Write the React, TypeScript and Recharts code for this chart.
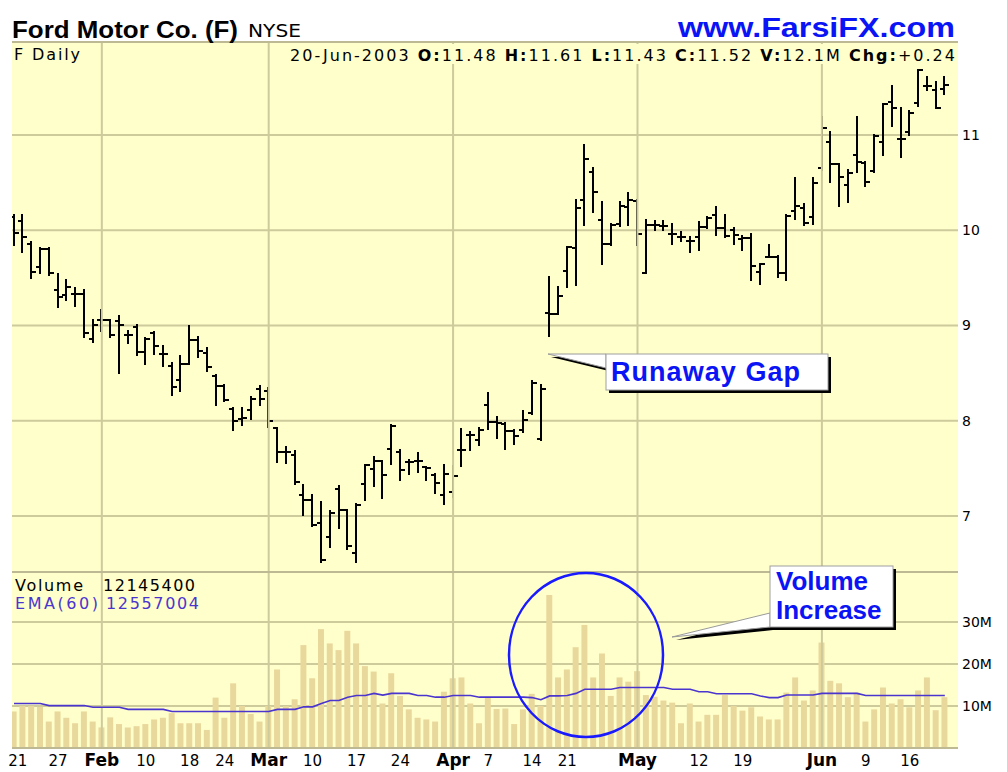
import React from "react"
import { Bar, CartesianGrid, ComposedChart, Line, ReferenceLine, XAxis, YAxis } from "recharts"

// Ford (F) daily bars, 17-Jan-2003 .. 20-Jun-2003, one entry per trading day
const opens = [
  10.14, 10.1, 9.86, 9.61, 9.8, 9.37, 9.32, 9.33, 9.33, 8.86,
  9.06, 9.06, 9.05, 8.9, 8.98, 8.72, 8.92, 8.7, 8.57, 8.43,
  8.6, 8.85, 8.71, 8.47, 8.36, 8.12, 8.02, 8.11, 8.33, 8.31,
  7.92, 7.67, 7.64, 7.22, 7.17, 6.93, 6.78, 7.28, 7.06, 6.61,
  7.34, 7.49, 7.58, 7.7, 7.67, 7.57, 7.58, 7.51, 7.43, 7.22,
  7.25, 7.69, 7.85, 7.8, 8.17, 7.99, 7.97, 7.89, 7.9, 8.08,
  7.81, 9.13, 9.12, 9.57, 9.81, 10.32, 10.61, 10.11, 9.86, 10.07,
  10.24, 10.31, 9.55, 10.05, 10.04, 9.96, 9.93, 9.89, 9.93, 10.03,
  10.16, 10.02, 10.0, 9.91, 9.92, 9.56, 9.72, 9.72, 9.55, 10.2,
  10.23, 10.14, 10.65, 10.93, 10.69, 10.48, 10.79, 10.71, 10.62, 10.93,
  11.35, 10.96, 11.03, 11.34, 11.51, 11.47, 11.48,
]
const highs = [
  10.16, 10.16, 9.88, 9.81, 9.81, 9.54, 9.48, 9.39, 9.37, 9.06,
  9.16, 9.06, 9.1, 8.94, 9.0, 8.87, 8.93, 8.78, 8.61, 8.68,
  8.99, 8.88, 8.76, 8.48, 8.38, 8.13, 8.13, 8.25, 8.36, 8.34,
  7.92, 7.72, 7.68, 7.33, 7.22, 7.15, 7.05, 7.32, 7.06, 7.13,
  7.54, 7.62, 7.58, 7.96, 7.69, 7.59, 7.66, 7.51, 7.44, 7.54,
  7.52, 7.91, 7.88, 7.92, 8.29, 8.04, 7.98, 7.9, 8.1, 8.42,
  8.37, 9.51, 9.4, 9.82, 10.32, 10.89, 10.65, 10.3, 10.07, 10.3,
  10.39, 10.32, 10.11, 10.1, 10.1, 10.07, 9.98, 9.93, 10.09, 10.14,
  10.24, 10.16, 10.02, 9.94, 9.96, 9.65, 9.84, 9.73, 10.16, 10.55,
  10.28, 10.55, 11.19, 11.03, 10.69, 10.63, 11.19, 10.72, 11.0, 11.33,
  11.51, 11.28, 11.25, 11.68, 11.61, 11.56, 11.61,
]
const lows = [
  9.85, 9.77, 9.5, 9.55, 9.53, 9.19, 9.27, 9.2, 8.88, 8.83,
  8.94, 8.88, 8.5, 8.82, 8.69, 8.6, 8.7, 8.57, 8.27, 8.31,
  8.6, 8.67, 8.52, 8.16, 8.21, 7.9, 7.95, 8.02, 8.16, 7.93,
  7.57, 7.56, 7.34, 7.01, 6.9, 6.52, 6.67, 6.87, 6.65, 6.52,
  7.17, 7.32, 7.19, 7.55, 7.38, 7.44, 7.46, 7.38, 7.24, 7.13,
  7.2, 7.53, 7.69, 7.75, 7.91, 7.82, 7.7, 7.76, 7.88, 8.07,
  7.8, 8.89, 9.12, 9.4, 9.43, 10.05, 10.19, 9.65, 9.84, 10.04,
  10.05, 9.84, 9.55, 10.0, 10.0, 9.86, 9.89, 9.77, 9.79, 10.02,
  9.95, 9.93, 9.86, 9.79, 9.48, 9.44, 9.72, 9.51, 9.48, 10.12,
  10.06, 10.07, 10.63, 10.51, 10.25, 10.3, 10.61, 10.46, 10.61, 10.79,
  11.09, 10.77, 11.0, 11.3, 11.47, 11.28, 11.43,
]
const closes = [
  9.97, 9.93, 9.56, 9.8, 9.55, 9.3, 9.4, 9.33, 8.92, 9.0,
  9.06, 8.9, 9.0, 8.9, 8.72, 8.86, 8.78, 8.7, 8.35, 8.6,
  8.85, 8.73, 8.56, 8.36, 8.22, 8.0, 8.03, 8.23, 8.23, 8.0,
  7.67, 7.67, 7.36, 7.17, 6.91, 6.54, 7.03, 7.06, 6.69, 7.12,
  7.54, 7.58, 7.43, 7.94, 7.48, 7.57, 7.58, 7.5, 7.35, 7.44,
  7.42, 7.69, 7.85, 7.9, 7.99, 7.98, 7.89, 7.84, 8.01, 8.4,
  8.33, 9.12, 9.31, 9.82, 10.23, 10.75, 10.4, 9.86, 10.05, 10.25,
  10.32, 9.96, 10.05, 10.05, 10.04, 9.96, 9.93, 9.89, 10.03, 10.13,
  10.02, 9.94, 9.95, 9.92, 9.62, 9.65, 9.72, 9.55, 10.15, 10.25,
  10.08, 10.5, 11.07, 10.69, 10.56, 10.6, 10.72, 10.51, 10.99, 11.32,
  11.28, 10.96, 11.23, 11.68, 11.51, 11.28, 11.52,
]
// volume in millions of shares
const volumes = [
  8.7, 10.0, 10.0, 9.8, 6.3, 8.7, 7.2, 5.9, 8.7, 6.3,
  4.9, 7.3, 5.7, 4.9, 5.2, 5.7, 6.8, 7.2, 8.3, 5.9,
  5.9, 5.9, 4.3, 12.0, 7.2, 15.4, 10.0, 8.1, 6.3, 10.0,
  18.7, 10.0, 11.6, 24.5, 16.6, 28.3, 24.9, 23.3, 27.9, 24.9,
  19.5, 18.2, 10.6, 17.8, 12.4, 9.2, 7.2, 6.8, 6.3, 13.4,
  16.6, 16.8, 10.6, 5.9, 12.0, 9.3, 9.4, 5.7, 9.2, 12.9,
  10.0, 36.4, 16.8, 18.7, 24.0, 29.3, 16.8, 22.5, 12.4, 16.8,
  15.8, 18.3, 12.6, 12.2, 11.3, 10.8, 5.9, 10.6, 6.3, 7.9,
  7.9, 12.6, 10.0, 8.9, 9.7, 7.5, 6.8, 6.8, 13.2, 16.8,
  11.3, 13.7, 25.1, 16.0, 15.4, 12.1, 13.2, 6.3, 9.2, 14.4,
  10.6, 11.6, 9.7, 13.7, 16.8, 9.0, 12.1,
]
// EMA(60) of volume (millions)
const ema60 = [
  10.6, 10.6, 10.6, 10.6, 10.1, 10.1, 10.1, 10.1, 10.1, 9.7,
  9.7, 9.7, 9.7, 9.2, 9.2, 9.2, 9.2, 9.2, 8.7, 8.7,
  8.7, 8.7, 8.7, 8.7, 8.7, 8.7, 8.7, 8.7, 8.7, 8.7,
  9.2, 9.2, 9.2, 9.8, 9.8, 10.6, 11.3, 11.3, 12.1, 12.5,
  12.5, 13.0, 12.6, 13.0, 13.0, 13.0, 12.5, 12.5, 12.1, 12.1,
  12.5, 12.5, 12.5, 12.1, 12.1, 12.1, 12.1, 12.1, 12.1, 12.0,
  11.5, 12.4, 12.4, 12.5, 13.0, 14.0, 14.0, 14.0, 14.0, 14.4,
  14.4, 14.4, 14.4, 14.4, 14.4, 14.0, 14.0, 14.0, 13.4, 13.4,
  12.9, 12.9, 12.9, 12.9, 12.9, 12.4, 12.0, 12.0, 12.6, 12.6,
  12.6, 12.6, 13.0, 13.0, 13.0, 13.0, 13.0, 12.5, 12.5, 12.5,
  12.5, 12.5, 12.5, 12.5, 12.5, 12.5, 12.5,
]

const tickIndex = [1, 5, 10, 15, 20, 24, 29, 34, 39, 44, 50, 54, 59, 63, 71, 78, 83, 92, 97, 102]
const tickLabels = ["21", "27", "Feb", "10", "18", "24", "Mar", "10", "17", "24", "Apr", "7", "14", "21", "May", "12", "19", "Jun", "9", "16"]
const monthNames = ["Feb", "Mar", "Apr", "May", "Jun"]
const monthStarts = [10, 29, 50, 71, 92]
const priceTicks = [7, 8, 9, 10, 11]
const priceMinor = [6.6, 6.8, 7.2, 7.4, 7.6, 7.8, 8.2, 8.4, 8.6, 8.8, 9.2, 9.4, 9.6, 9.8, 10.2, 10.4, 10.6, 10.8, 11.2, 11.4, 11.6, 11.8]
const volumeTicks = [10, 20, 30]
const volumeMinor = [2, 4, 6, 8, 12, 14, 16, 18, 22, 24, 26, 28, 32, 34, 36, 38, 40]

const rows = opens.map((o, i) => ({
  i,
  o,
  h: highs[i],
  l: lows[i],
  c: closes[i],
  v: volumes[i],
  ema: ema60[i],
}))

const BG = "#FFFFCC"
const GRID = "#CDCA9C"
const FRAME = "#BDBA93"
const XDOMAIN: [number, number] = [-0.23, 107.5]
const SANS = "'DejaVu Sans', Verdana, sans-serif"
const ARIAL = "'Liberation Sans', Arial, sans-serif"

function OhlcBar(props: any) {
  const { x, y, width, height, payload } = props
  if (!payload) return null
  const top = Math.min(y, y + height)
  const bottom = Math.max(y, y + height)
  const span = payload.h - payload.l
  const at = (p: number) => (span > 0 ? top + ((payload.h - p) / span) * (bottom - top) : top)
  const cx = Math.round(x + width / 2)
  return (
    <g stroke="#000" strokeWidth={2} shapeRendering="crispEdges">
      <line x1={cx} x2={cx} y1={top - 1} y2={bottom + 1} />
      <line x1={cx - 4} x2={cx} y1={Math.round(at(payload.o))} y2={Math.round(at(payload.o))} />
      <line x1={cx} x2={cx + 5} y1={Math.round(at(payload.c))} y2={Math.round(at(payload.c))} />
    </g>
  )
}

function PriceTick({ x, y, payload }: any) {
  return (
    <text x={x} y={y} dy={5} fontFamily={SANS} fontSize={14} fill="#000" textAnchor="start">
      {payload.value}
    </text>
  )
}

function VolumeTick({ x, y, payload }: any) {
  return (
    <text x={x} y={y} dy={5} fontFamily={SANS} fontSize={14} fill="#000" textAnchor="start">
      {payload.value}M
    </text>
  )
}

function DateTick({ x, y, payload }: any) {
  const k = tickIndex.indexOf(payload.value)
  const label = tickLabels[k]
  const month = monthNames.includes(label)
  return (
    <text
      x={k === 0 ? x - 5 : x}
      y={y + 18}
      textAnchor="middle"
      fontFamily={SANS}
      fontSize={month ? 17 : 15}
      fontWeight={month ? "bold" : "normal"}
      fill="#000"
    >
      {label}
    </text>
  )
}

const noTick = () => <g />

const header: Array<[string, boolean]> = [
  ["20-Jun-2003 ", false],
  ["O:", true],
  ["11.48 ", false],
  ["H:", true],
  ["11.61 ", false],
  ["L:", true],
  ["11.43 ", false],
  ["C:", true],
  ["11.52 ", false],
  ["V:", true],
  ["12.1M ", false],
  ["Chg:", true],
  ["+0.24", false],
]

export default function App() {
  return (
    <div style={{ position: "relative", width: 1007, height: 772, background: "#fff", overflow: "hidden" }}>
      <style>{"body{margin:0}"}</style>

      <div style={{ position: "absolute", left: 0, top: 0 }}>
        <ComposedChart width={1007} height={573} data={rows} margin={{ top: 42, right: 0, bottom: 1, left: 12 }}>
          <CartesianGrid xAxisId="x" yAxisId="p" vertical={false} fill={BG} stroke={GRID} strokeWidth={2} />
          <XAxis xAxisId="x" dataKey="i" type="number" domain={XDOMAIN} allowDataOverflow hide />
          <XAxis xAxisId="top" orientation="top" mirror type="number" domain={XDOMAIN} ticks={[]} tick={noTick} tickLine={false} axisLine={{ stroke: FRAME, strokeWidth: 2 }} />
          <XAxis xAxisId="bottom" orientation="bottom" mirror type="number" domain={XDOMAIN} ticks={[]} tick={noTick} tickLine={false} axisLine={{ stroke: FRAME, strokeWidth: 2 }} />
          <YAxis yAxisId="p" orientation="right" width={49} type="number" domain={[6.412, 11.976]} allowDataOverflow ticks={priceTicks} interval={0} tick={<PriceTick />} tickLine={false} tickSize={0} tickMargin={4} axisLine={false} />
          <YAxis yAxisId="pl" orientation="left" mirror width={0} type="number" domain={[6.412, 11.976]} allowDataOverflow ticks={priceMinor} interval={0} tick={noTick} tickSize={5} tickLine={{ stroke: GRID, strokeWidth: 1 }} axisLine={{ stroke: FRAME, strokeWidth: 2 }} />
          <YAxis yAxisId="pr" orientation="right" mirror width={0} type="number" domain={[6.412, 11.976]} allowDataOverflow ticks={priceMinor} interval={0} tick={noTick} tickSize={5} tickLine={{ stroke: GRID, strokeWidth: 1 }} axisLine={{ stroke: FRAME, strokeWidth: 2 }} />
          {monthStarts.map((m) => (
            <ReferenceLine key={m} xAxisId="x" yAxisId="p" x={m} stroke={GRID} strokeWidth={2} />
          ))}
          <Bar xAxisId="x" yAxisId="p" dataKey={(d: any) => [d.l, d.h]} barSize={6} shape={<OhlcBar />} isAnimationActive={false} />
        </ComposedChart>
      </div>

      <div style={{ position: "absolute", left: 0, top: 562 }}>
        <ComposedChart width={1007} height={210} data={rows} margin={{ top: 10, right: 0, bottom: 0, left: 12 }}>
          <CartesianGrid xAxisId="x" yAxisId="v" vertical={false} fill={BG} stroke={GRID} strokeWidth={2} />
          <XAxis xAxisId="x" dataKey="i" type="number" domain={XDOMAIN} allowDataOverflow ticks={tickIndex} interval={0} height={24} tick={<DateTick />} tickLine={false} tickSize={0} tickMargin={0} axisLine={{ stroke: FRAME, strokeWidth: 2 }} />
          <XAxis xAxisId="top" orientation="top" mirror type="number" domain={XDOMAIN} ticks={[]} tick={noTick} tickLine={false} axisLine={{ stroke: FRAME, strokeWidth: 2 }} />
          <YAxis yAxisId="v" orientation="right" width={49} type="number" domain={[0, 41.9]} allowDataOverflow ticks={volumeTicks} interval={0} tick={<VolumeTick />} tickLine={false} tickSize={0} tickMargin={4} axisLine={false} />
          <YAxis yAxisId="vl" orientation="left" mirror width={0} type="number" domain={[0, 41.9]} allowDataOverflow ticks={volumeMinor} interval={0} tick={noTick} tickSize={5} tickLine={{ stroke: GRID, strokeWidth: 1 }} axisLine={{ stroke: FRAME, strokeWidth: 2 }} />
          <YAxis yAxisId="vr" orientation="right" mirror width={0} type="number" domain={[0, 41.9]} allowDataOverflow ticks={volumeMinor} interval={0} tick={noTick} tickSize={5} tickLine={{ stroke: GRID, strokeWidth: 1 }} axisLine={{ stroke: FRAME, strokeWidth: 2 }} />
          {monthStarts.map((m) => (
            <ReferenceLine key={m} xAxisId="x" yAxisId="v" x={m} stroke={GRID} strokeWidth={2} />
          ))}
          <Bar xAxisId="x" yAxisId="v" dataKey="v" barSize={6} fill="#E9D89C" isAnimationActive={false} />
          <Line xAxisId="x" yAxisId="v" dataKey="ema" type="linear" stroke="#4B35CF" strokeWidth={1.6} dot={false} activeDot={false} isAnimationActive={false} />
        </ComposedChart>
      </div>

      <svg width={1007} height={772} style={{ position: "absolute", left: 0, top: 0, pointerEvents: "none" }}>
        <text x={12} y={38} fontFamily={ARIAL} fontWeight="bold" fontSize={24} textLength={226} lengthAdjust="spacingAndGlyphs" fill="#000">
          Ford Motor Co. (F)
        </text>
        <text x={248} y={37} fontFamily={SANS} fontSize={17} textLength={53} lengthAdjust="spacingAndGlyphs" fill="#000">
          NYSE
        </text>
        <text x={955} y={37} textAnchor="end" fontFamily={ARIAL} fontWeight="bold" fontSize={28} textLength={277} lengthAdjust="spacingAndGlyphs" fill="#0A14F5">
          www.FarsiFX.com
        </text>

        <text x={14} y={60} fontFamily={SANS} fontSize={16} textLength={66} fill="#000">
          F Daily
        </text>
        <rect x={284} y={44} width={672} height={20} fill={BG} />
        <text x={290} y={61} fontFamily={SANS} fontSize={16} textLength={665} fill="#000">
          {header.map(([s, b], k) => (
            <tspan key={k} fontWeight={b ? "bold" : "normal"}>
              {s}
            </tspan>
          ))}
        </text>

        <text x={15} y={591} fontFamily={SANS} fontSize={16} textLength={68} fill="#000">Volume</text>
        <text x={103} y={591} fontFamily={SANS} fontSize={16} textLength={92} fill="#000">12145400</text>
        <text x={15} y={609} fontFamily={SANS} fontSize={16} textLength={83} fill="#4B35CF">EMA(60)</text>
        <text x={106} y={609} fontFamily={SANS} fontSize={16} textLength={93} fill="#4B35CF">12557004</text>

        {/* Runaway Gap callout */}
        <polygon points="551,357 609,357 609,371" fill="#000" />
        <polygon points="548,354 606,354 606,368" fill="#fff" stroke="#9A9A9A" strokeWidth={1} />
        <rect x={609} y={357} width={222} height={36} fill="#000" />
        <rect x={606} y={354} width={222} height={36} fill="#fff" stroke="#A0A0A0" strokeWidth={1} />
        <text x={611} y={381} fontFamily={ARIAL} fontWeight="bold" fontSize={27} textLength={189} fill="#0A14F5">
          Runaway Gap
        </text>

        {/* Volume Increase callout */}
        <polygon points="676,640 773,616 773,630" fill="#000" />
        <polygon points="672,637 770,613 770,627" fill="#fff" stroke="#9A9A9A" strokeWidth={1} />
        <rect x={773} y={569} width={123} height={61} fill="#000" />
        <rect x={770} y={566} width={123} height={61} fill="#fff" stroke="#A0A0A0" strokeWidth={1} />
        <text x={776} y={590} fontFamily={ARIAL} fontWeight="bold" fontSize={26} fill="#0A14F5">
          Volume
        </text>
        <text x={776} y={619} fontFamily={ARIAL} fontWeight="bold" fontSize={26} fill="#0A14F5">
          Increase
        </text>

        <ellipse cx={586} cy={655} rx={77} ry={82} fill="none" stroke="#1A1AFF" strokeWidth={2.5} />
      </svg>
    </div>
  )
}
